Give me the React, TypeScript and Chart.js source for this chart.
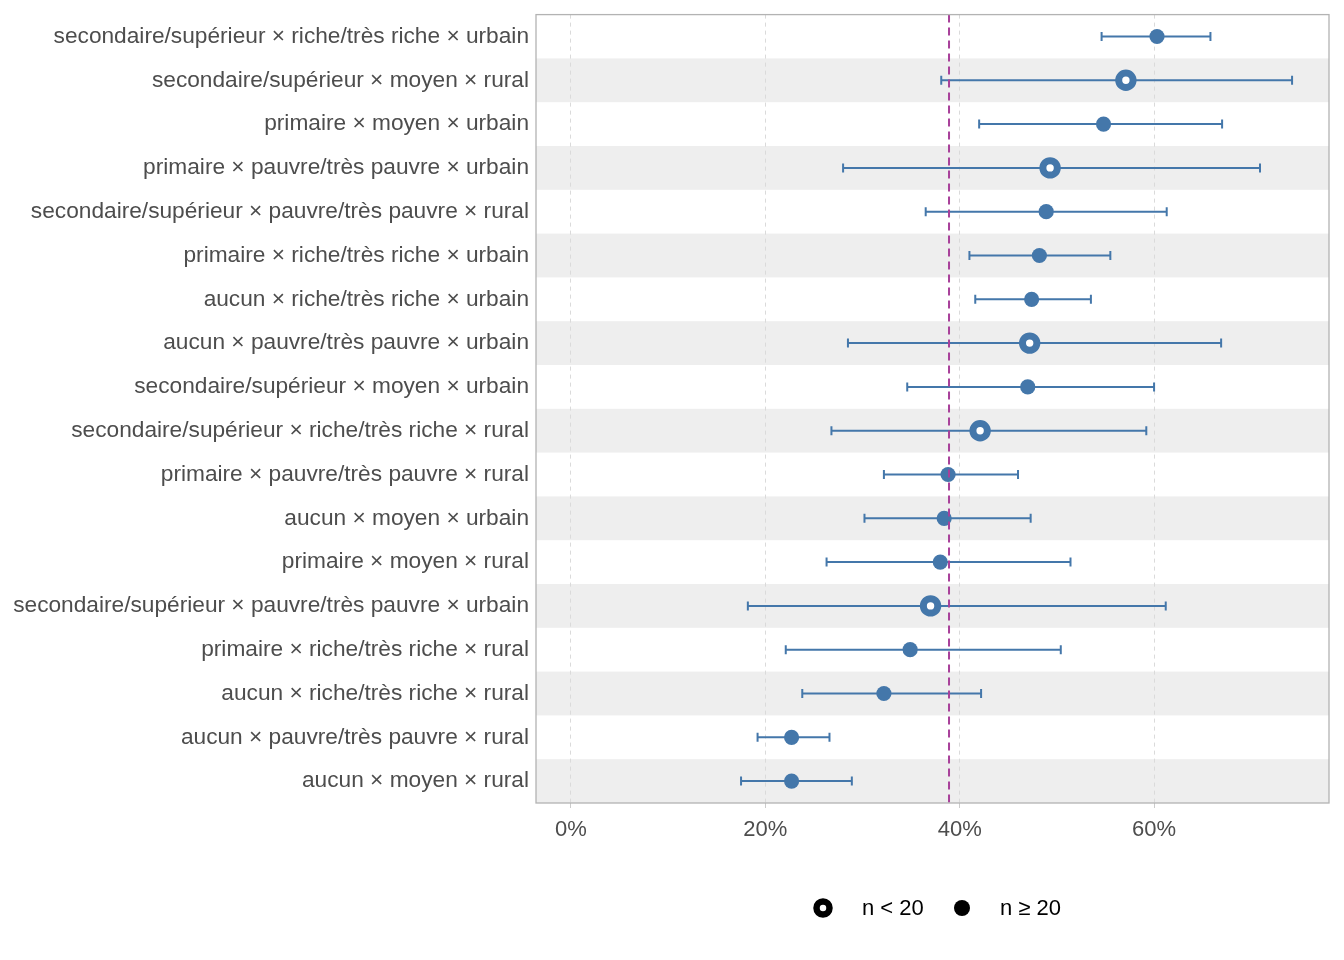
import { useEffect, useRef } from 'react';
import { Chart, registerables, Plugin } from 'chart.js';

Chart.register(...registerables);

// rows, top to bottom
const categories = [
  'secondaire/supérieur × riche/très riche × urbain',
  'secondaire/supérieur × moyen × rural',
  'primaire × moyen × urbain',
  'primaire × pauvre/très pauvre × urbain',
  'secondaire/supérieur × pauvre/très pauvre × rural',
  'primaire × riche/très riche × urbain',
  'aucun × riche/très riche × urbain',
  'aucun × pauvre/très pauvre × urbain',
  'secondaire/supérieur × moyen × urbain',
  'secondaire/supérieur × riche/très riche × rural',
  'primaire × pauvre/très pauvre × rural',
  'aucun × moyen × urbain',
  'primaire × moyen × rural',
  'secondaire/supérieur × pauvre/très pauvre × urbain',
  'primaire × riche/très riche × rural',
  'aucun × riche/très riche × rural',
  'aucun × pauvre/très pauvre × rural',
  'aucun × moyen × rural',
];

// proportions in %
const estimates = [60.3, 57.1, 54.8, 49.3, 48.9, 48.2, 47.4, 47.2, 47.0, 42.1, 38.8, 38.4, 38.0, 37.0, 34.9, 32.2, 22.7, 22.7];
const lower = [54.6, 38.1, 42.0, 28.0, 36.5, 41.0, 41.6, 28.5, 34.6, 26.8, 32.2, 30.2, 26.3, 18.2, 22.1, 23.8, 19.2, 17.5];
const upper = [65.8, 74.2, 67.0, 70.9, 61.3, 55.5, 53.5, 66.9, 60.0, 59.2, 46.0, 47.3, 51.4, 61.2, 50.4, 42.2, 26.6, 28.9];
// true when n < 20
const smallN = [false, true, false, true, false, false, false, true, false, true, false, false, false, true, false, false, false, false];

const overallRate = 38.9;
const xTicks = [0, 20, 40, 60];
const legendLabels = ['n < 20', 'n ≥ 20'];

const BLUE = '#4477AA';
const FONT = "Arial, 'Liberation Sans', sans-serif";

const panelPlugin: Plugin = {
  id: 'panel',
  beforeDraw(chart) {
    const { ctx, chartArea: a } = chart;
    const y = chart.scales.y;
    const step = y.getPixelForValue(1) - y.getPixelForValue(0);
    ctx.save();
    ctx.fillStyle = '#ffffff';
    ctx.fillRect(0, 0, chart.width, chart.height);
    ctx.fillStyle = '#EEEEEE';
    categories.forEach((_, i) => {
      if (i % 2 === 1) {
        const c = y.getPixelForValue(i);
        ctx.fillRect(a.left, c - step / 2, a.right - a.left, step);
      }
    });
    ctx.restore();
  },
  beforeDatasetsDraw(chart) {
    const { ctx } = chart;
    const x = chart.scales.x;
    const y = chart.scales.y;
    ctx.save();
    ctx.strokeStyle = BLUE;
    ctx.lineWidth = 2;
    categories.forEach((_, i) => {
      const py = y.getPixelForValue(i);
      const x0 = x.getPixelForValue(lower[i]);
      const x1 = x.getPixelForValue(upper[i]);
      ctx.beginPath();
      ctx.moveTo(x0, py);
      ctx.lineTo(x1, py);
      ctx.moveTo(x0, py - 4.5);
      ctx.lineTo(x0, py + 4.5);
      ctx.moveTo(x1, py - 4.5);
      ctx.lineTo(x1, py + 4.5);
      ctx.stroke();
    });
    ctx.restore();
  },
  afterDatasetsDraw(chart) {
    const { ctx, chartArea: a } = chart;
    const px = chart.scales.x.getPixelForValue(overallRate);
    ctx.save();
    ctx.strokeStyle = '#A8409A';
    ctx.lineWidth = 2;
    ctx.setLineDash([8, 5]);
    ctx.beginPath();
    ctx.moveTo(px, a.top);
    ctx.lineTo(px, a.bottom);
    ctx.stroke();
    ctx.setLineDash([]);
    ctx.strokeStyle = '#B3B3B3';
    ctx.lineWidth = 1.3;
    ctx.strokeRect(a.left, a.top, a.right - a.left, a.bottom - a.top);
    ctx.restore();
  },
  afterDraw(chart) {
    const { ctx } = chart;
    const cy = 908;
    ctx.save();
    ctx.fillStyle = '#000000';
    ctx.strokeStyle = '#000000';
    // open circle
    ctx.lineWidth = 6.5;
    ctx.beginPath();
    ctx.arc(823, cy, 6.5, 0, Math.PI * 2);
    ctx.stroke();
    // filled circle
    ctx.beginPath();
    ctx.arc(962, cy, 8, 0, Math.PI * 2);
    ctx.fill();
    ctx.font = `22px ${FONT}`;
    ctx.textBaseline = 'middle';
    ctx.textAlign = 'left';
    ctx.fillText(legendLabels[0], 862, cy + 1);
    ctx.fillText(legendLabels[1], 1000, cy + 1);
    ctx.restore();
  },
};

export default function App() {
  const canvasRef = useRef<HTMLCanvasElement | null>(null);

  useEffect(() => {
    if (!canvasRef.current) return;
    const chart = new Chart(canvasRef.current, {
      type: 'scatter',
      data: {
        datasets: [
          {
            data: categories.map((c, i) => ({ x: estimates[i], y: c })),
            pointRadius: (ctx: any) => (smallN[ctx.dataIndex] ? 7.2 : 7.6),
            pointBorderWidth: (ctx: any) => (smallN[ctx.dataIndex] ? 7 : 0),
            pointBackgroundColor: (ctx: any) => (smallN[ctx.dataIndex] ? '#ffffff' : BLUE),
            pointBorderColor: BLUE,
            pointHoverRadius: 7.6,
          },
        ],
      },
      options: {
        animation: false,
        responsive: true,
        maintainAspectRatio: false,
        layout: { padding: { top: 14, right: 15, left: 0, bottom: 0 } },
        plugins: { legend: { display: false }, tooltip: { enabled: false } },
        scales: {
          x: {
            type: 'linear',
            min: -3.6,
            max: 78,
            afterBuildTicks: (scale: any) => {
              scale.ticks = xTicks.map((v) => ({ value: v }));
            },
            afterFit: (scale: any) => {
              scale.height = 157;
            },
            ticks: {
              callback: (v: any) => `${v}%`,
              color: '#4D4D4D',
              font: { family: FONT, size: 22 },
              padding: 9,
              maxRotation: 0,
            },
            grid: {
              color: '#DADADA',
              lineWidth: 1,
              tickLength: 5,
              tickColor: '#CCCCCC',
              tickBorderDash: [],
            },
            border: { display: false, dash: [4, 4] },
          },
          y: {
            type: 'category',
            labels: categories,
            offset: true,
            afterFit: (scale: any) => {
              scale.width = 536;
              scale.paddingTop = 0;
              scale.paddingBottom = 0;
            },
            ticks: {
              color: '#4D4D4D',
              font: { family: FONT, size: 22.7 },
              padding: 7,
              autoSkip: false,
            },
            grid: { display: false, drawTicks: false },
            border: { display: false },
          },
        },
      },
      plugins: [panelPlugin],
    });
    return () => chart.destroy();
  }, []);

  return (
    <div style={{ position: 'absolute', left: 0, top: 0, width: 1344, height: 960, background: '#fff' }}>
      <canvas ref={canvasRef} />
    </div>
  );
}
